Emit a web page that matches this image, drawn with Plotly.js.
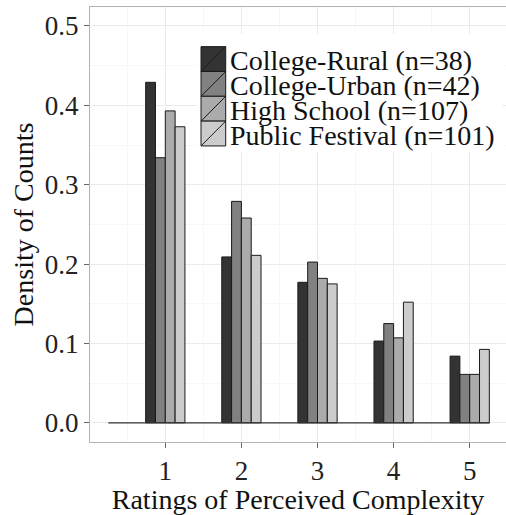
<!DOCTYPE html>
<html><head><meta charset="utf-8">
<script src="https://cdn.plot.ly/plotly-3.0.1.min.js"></script>
<style>html,body{margin:0;padding:0;overflow:hidden;background:#fff}</style>
</head><body><div id="chart" style="width:506px;height:515px"></div>
<script>
// ---- data ----
const ratings = [1, 2, 3, 4, 5];
const seriesNames = ['College-Rural (n=38)', 'College-Urban (n=42)', 'High School (n=107)', 'Public Festival (n=101)'];
const collegeRural   = [0.429, 0.209, 0.177, 0.103, 0.084];
const collegeUrban   = [0.334, 0.279, 0.2025, 0.125, 0.061];
const highSchool     = [0.393, 0.258, 0.182, 0.107, 0.061];
const publicFestival = [0.373, 0.211, 0.175, 0.152, 0.0925];
const yTicks = [0, 0.1, 0.2, 0.3, 0.4, 0.5];
const histExtent = [0.251, 5.263]; // extent of the (mostly empty) histogram bins

// ---- style ----
const fills = ['#333333', '#818181', '#ababab', '#cccccc'];
const FONT = '"Liberation Serif", "DejaVu Serif", "Times New Roman", serif';
const W = 506, H = 515;
const M = {l: 90, r: 0, t: 7, b: 72.5};
const pw = W - M.l - M.r, ph = H - M.t - M.b;
const px = x => (x - M.l) / pw;
const py = y => (H - M.b - y) / ph;

const allSeries = [collegeRural, collegeUrban, highSchool, publicFestival];
const traces = allSeries.map((vals, i) => ({
  type: 'bar', x: ratings, y: vals, name: seriesNames[i],
  marker: {color: fills[i], line: {color: '#1a1a1a', width: 1}},
  showlegend: false, hoverinfo: 'x+y+name'
}));

// custom ggplot-like legend
const keyX0 = 201, keyX1 = 225.7, keyY0 = 46.7, keyH = 24.85, textX = 228;
const shapes = [
  {type: 'rect', xref: 'paper', yref: 'paper', x0: px(197), x1: px(502), y0: py(152), y1: py(34),
   fillcolor: '#ffffff', line: {width: 0}, layer: 'above'},
  {type: 'line', xref: 'x', yref: 'y', x0: histExtent[0], x1: histExtent[1], y0: 0, y1: 0,
   line: {color: '#333333', width: 1.2}, layer: 'above'}
];
const annotations = [];
seriesNames.forEach((nm, i) => {
  const y0 = keyY0 + i * keyH, y1 = y0 + keyH;
  shapes.push({type: 'rect', xref: 'paper', yref: 'paper', x0: px(keyX0), x1: px(keyX1), y0: py(y1), y1: py(y0),
    fillcolor: fills[i], line: {color: '#1a1a1a', width: 1}, layer: 'above'});
  shapes.push({type: 'line', xref: 'paper', yref: 'paper', x0: px(keyX0), x1: px(keyX1), y0: py(y1), y1: py(y0),
    line: {color: '#1a1a1a', width: 1}, layer: 'above'});
  annotations.push({xref: 'paper', yref: 'paper', x: px(textX), y: py((y0 + y1) / 2 + 1.5),
    xanchor: 'left', yanchor: 'middle', showarrow: false, text: nm,
    font: {family: FONT, size: 28, color: '#111111'}});
});

const layout = {
  width: W, height: H, margin: M,
  paper_bgcolor: '#ffffff', plot_bgcolor: '#ffffff',
  barmode: 'group', bargap: 0.484, bargroupgap: 0,
  font: {family: FONT, color: '#222222'},
  xaxis: {
    range: [0.0105, 5.477], tickvals: ratings, ticktext: ratings.map(String),
    showgrid: true, gridcolor: '#ebebeb', gridwidth: 1,
    minor: {tickvals: [0.5, 1.5, 2.5, 3.5, 4.5], showgrid: true, gridcolor: '#f7f7f7', gridwidth: 1},
    zeroline: false, showline: true, linecolor: '#b3b3b3', linewidth: 1, mirror: true,
    ticks: 'outside', ticklen: 5, tickcolor: '#666666', tickwidth: 1,
    tickfont: {family: FONT, size: 27, color: '#222222'},
    title: {text: 'Ratings of Perceived Complexity', font: {family: FONT, size: 28, color: '#111111'}, standoff: 4},
    fixedrange: true
  },
  yaxis: {
    range: [-0.0242, 0.5239], tickvals: yTicks, ticktext: yTicks.map(v => v.toFixed(1)),
    showgrid: true, gridcolor: '#ebebeb', gridwidth: 1,
    minor: {tickvals: [0.05, 0.15, 0.25, 0.35, 0.45], showgrid: true, gridcolor: '#f7f7f7', gridwidth: 1},
    zeroline: false, showline: true, linecolor: '#b3b3b3', linewidth: 1,
    ticks: 'outside', ticklen: 5, tickcolor: '#666666', tickwidth: 1,
    tickfont: {family: FONT, size: 27, color: '#222222'},
    title: {text: 'Density of Counts', font: {family: FONT, size: 28, color: '#111111'}, standoff: 3},
    fixedrange: true
  },
  shapes: shapes, annotations: annotations
};

Plotly.newPlot('chart', traces, layout, {displayModeBar: false, staticPlot: true});
</script></body></html>
